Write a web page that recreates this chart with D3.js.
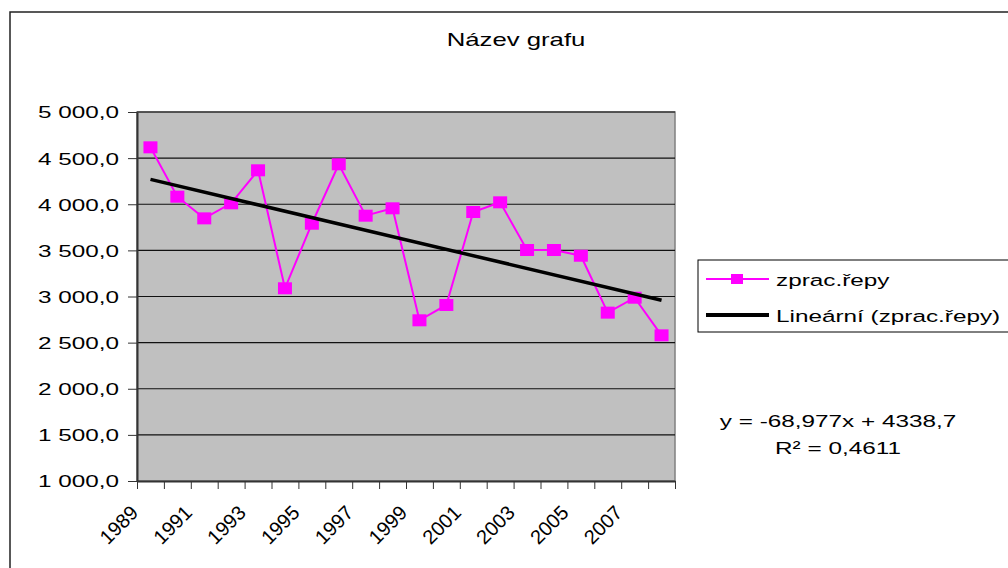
<!DOCTYPE html>
<html>
<head>
<meta charset="utf-8">
<script src="https://cdn.jsdelivr.net/npm/d3@7"></script>
<style>
  body { margin: 0; background: #fff; }
  svg { display: block; font-family: "Liberation Sans", Arial, sans-serif; }
</style>
</head>
<body>
<div id="chart"></div>
<script>
// Data
const years = [1989, 1990, 1991, 1992, 1993, 1994, 1995, 1996, 1997, 1998,
  1999, 2000, 2001, 2002, 2003, 2004, 2005, 2006, 2007, 2008];
const values = [4617, 4082, 3847, 4010, 4368, 3089, 3789, 4433, 3876, 3956,
  2742, 2908, 3916, 4021, 3504, 3504, 3442, 2825, 2987, 2579];
const yTicks = [1000, 1500, 2000, 2500, 3000, 3500, 4000, 4500, 5000];
const trendSlope = -68.977;
const trendIntercept = 4338.7;
const trendLabel = "y = -68,977x + 4338,7";
const r2Label = "R² = 0,4611";
const seriesName = "zprac.řepy";
const trendName = "Lineární (zprac.řepy)";
const title = "Název grafu";

const W = 1008, H = 568;
const plot = { left: 137, right: 675, top: 112, bottom: 481 };
const SX = 1.43; // text in the picture is stretched horizontally

const svg = d3.select("#chart").append("svg")
  .attr("width", W)
  .attr("height", H);

// outer chart border
svg.append("rect")
  .attr("x", 10).attr("y", 12)
  .attr("width", 1100).attr("height", 700)
  .attr("fill", "#fff")
  .attr("stroke", "#222")
  .attr("stroke-width", 1.5);

// helper for horizontally stretched text
function wideText(x, y, str, size, anchor) {
  return svg.append("text")
    .attr("transform", `translate(${x},${y}) scale(${SX},1)`)
    .attr("text-anchor", anchor || "start")
    .style("font-size", size + "px")
    .attr("fill", "#000")
    .text(str);
}

// scales
const x = d3.scaleBand()
  .domain(years)
  .range([plot.left, plot.right]);
const xEdge = d3.scaleLinear()
  .domain([0, years.length])
  .range([plot.left, plot.right]);
const y = d3.scaleLinear()
  .domain([1000, 5000])
  .range([plot.bottom, plot.top]);
const cx = d => x(d) + x.bandwidth() / 2;

// plot area
svg.append("rect")
  .attr("x", plot.left).attr("y", plot.top)
  .attr("width", plot.right - plot.left)
  .attr("height", plot.bottom - plot.top)
  .attr("fill", "#c0c0c0")
  .attr("stroke", "#808080")
  .attr("stroke-width", 1.5);

// horizontal gridlines
svg.selectAll(".grid")
  .data(yTicks.slice(1))
  .join("line")
  .attr("x1", plot.left).attr("x2", plot.right)
  .attr("y1", d => y(d)).attr("y2", d => y(d))
  .attr("stroke", "#111")
  .attr("stroke-width", 1.2);

// y axis
const fmt = d3.formatLocale({ decimal: ",", thousands: " ", grouping: [3], currency: ["", ""] })
  .format(",.1f");
const yAxis = svg.append("g")
  .attr("transform", `translate(${plot.left},0)`)
  .call(d3.axisLeft(y).tickValues(yTicks).tickSize(9).tickSizeOuter(0).tickFormat(fmt));
yAxis.select(".domain").attr("stroke", "#333").attr("stroke-width", 2);
yAxis.selectAll(".tick line").attr("stroke", "#333");
yAxis.selectAll(".tick text")
  .attr("x", 0)
  .attr("dy", "0.35em")
  .attr("transform", `translate(-18,0) scale(${SX},1)`)
  .style("font-size", "17px")
  .style("font-family", "'Liberation Sans', Arial, sans-serif")
  .attr("fill", "#000");

// x axis: ticks between categories
const xAxis = svg.append("g")
  .attr("transform", `translate(0,${plot.bottom})`)
  .call(d3.axisBottom(xEdge).tickValues(d3.range(0, years.length + 1)).tickSize(8).tickSizeOuter(0).tickFormat(""));
xAxis.select(".domain").attr("stroke", "#333").attr("stroke-width", 2);
xAxis.selectAll(".tick line").attr("stroke", "#333");

// x labels, every other year
svg.selectAll(".xlab")
  .data(years.filter((d, i) => i % 2 === 0))
  .join("text")
  .attr("transform", d => `translate(${cx(d) - 11},514) rotate(-45)`)
  .attr("text-anchor", "end")
  .style("font-size", "20px")
  .attr("fill", "#000")
  .text(d => d);

// data series
const data = years.map((yr, i) => ({ yr, v: values[i] }));
svg.append("path")
  .datum(data)
  .attr("fill", "none")
  .attr("stroke", "#ff00ff")
  .attr("stroke-width", 2)
  .attr("d", d3.line().x(d => cx(d.yr)).y(d => y(d.v)));

svg.selectAll(".mark")
  .data(data)
  .join("rect")
  .attr("x", d => cx(d.yr) - 7)
  .attr("y", d => y(d.v) - 6)
  .attr("width", 14)
  .attr("height", 12)
  .attr("fill", "#ff00ff");

// linear trendline (x = 1..n)
const trend = years.map((yr, i) => ({ yr, v: trendSlope * (i + 1) + trendIntercept }));
svg.append("path")
  .datum([trend[0], trend[trend.length - 1]])
  .attr("fill", "none")
  .attr("stroke", "#000")
  .attr("stroke-width", 3.5)
  .attr("d", d3.line().x(d => cx(d.yr)).y(d => y(d.v)));

// title
wideText(516, 46, title, 18, "middle");

// legend
svg.append("rect")
  .attr("x", 698).attr("y", 260)
  .attr("width", 400).attr("height", 72)
  .attr("fill", "#fff")
  .attr("stroke", "#000")
  .attr("stroke-width", 1);
svg.append("line")
  .attr("x1", 706).attr("x2", 769)
  .attr("y1", 279).attr("y2", 279)
  .attr("stroke", "#ff00ff").attr("stroke-width", 2);
svg.append("rect")
  .attr("x", 731).attr("y", 274)
  .attr("width", 12).attr("height", 10)
  .attr("fill", "#ff00ff");
wideText(776, 286, seriesName, 17);
svg.append("line")
  .attr("x1", 706).attr("x2", 769)
  .attr("y1", 315).attr("y2", 315)
  .attr("stroke", "#000").attr("stroke-width", 4);
wideText(776, 322, trendName, 17);

// trendline equation
wideText(838, 427, trendLabel, 17, "middle");
wideText(838, 454, r2Label, 17, "middle");
</script>
</body>
</html>
